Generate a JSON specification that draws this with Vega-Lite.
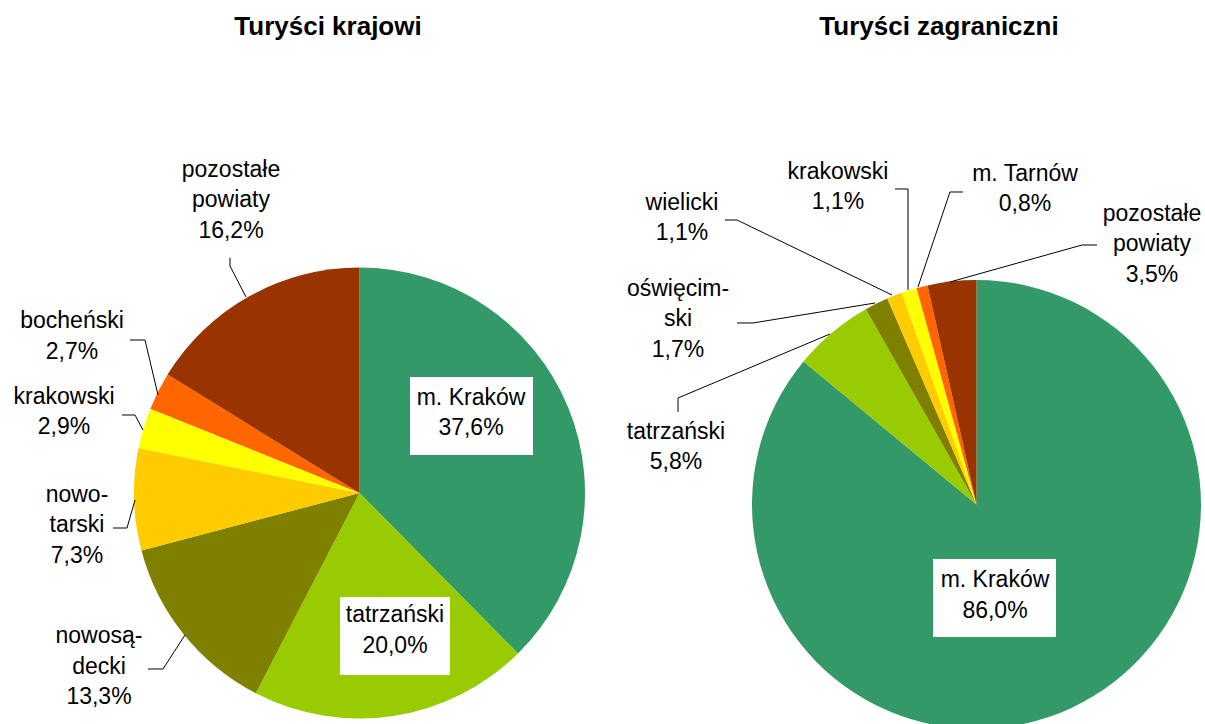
{
  "$schema": "https://vega.github.io/schema/vega-lite/v6.json",
  "width": 1205,
  "height": 724,
  "autosize": {"type": "none"},
  "padding": 0,
  "background": "white",
  "config": {
    "view": {"stroke": null},
    "axis": {"disable": true},
    "text": {"font": "Liberation Sans", "fontSize": 23, "lineHeight": 30.5, "color": "black", "baseline": "middle", "align": "center"},
    "rule": {"color": "black", "strokeWidth": 1}
  },
  "datasets": {
    "krajowi": [
      {"nr": 1, "powiat": "m. Kraków", "udzial": 37.6, "etykieta": ["m. Kraków", "37,6%"]},
      {"nr": 2, "powiat": "tatrzański", "udzial": 20.0, "etykieta": ["tatrzański", "20,0%"]},
      {"nr": 3, "powiat": "nowosądecki", "udzial": 13.3, "etykieta": ["nowosą-", "decki", "13,3%"]},
      {"nr": 4, "powiat": "nowotarski", "udzial": 7.3, "etykieta": ["nowo-", "tarski", "7,3%"]},
      {"nr": 5, "powiat": "krakowski", "udzial": 2.9, "etykieta": ["krakowski", "2,9%"]},
      {"nr": 6, "powiat": "bocheński", "udzial": 2.7, "etykieta": ["bocheński", "2,7%"]},
      {"nr": 7, "powiat": "pozostałe powiaty", "udzial": 16.2, "etykieta": ["pozostałe", "powiaty", "16,2%"]}
    ],
    "zagraniczni": [
      {"nr": 1, "powiat": "m. Kraków", "udzial": 86.0, "etykieta": ["m. Kraków", "86,0%"]},
      {"nr": 2, "powiat": "tatrzański", "udzial": 5.8, "etykieta": ["tatrzański", "5,8%"]},
      {"nr": 3, "powiat": "oświęcimski", "udzial": 1.7, "etykieta": ["oświęcim-", "ski", "1,7%"]},
      {"nr": 4, "powiat": "wielicki", "udzial": 1.1, "etykieta": ["wielicki", "1,1%"]},
      {"nr": 5, "powiat": "krakowski", "udzial": 1.1, "etykieta": ["krakowski", "1,1%"]},
      {"nr": 6, "powiat": "m. Tarnów", "udzial": 0.8, "etykieta": ["m. Tarnów", "0,8%"]},
      {"nr": 7, "powiat": "pozostałe powiaty", "udzial": 3.5, "etykieta": ["pozostałe", "powiaty", "3,5%"]}
    ],
    "tytuly": [
      {"grupa": "krajowi", "tytul": "Turyści krajowi"},
      {"grupa": "zagraniczni", "tytul": "Turyści zagraniczni"}
    ]
  },
  "layer": [
    {
      "data": {"name": "krajowi"},
      "mark": {"type": "arc", "outerRadius": 225.5},
      "encoding": {
        "x": {"datum": 0, "type": "quantitative", "scale": {"domain": [-1.5978, 3.7578], "nice": false, "zero": false}, "axis": null},
        "y": {"datum": 0, "type": "quantitative", "scale": {"domain": [-1.0267, 2.1911], "nice": false, "zero": false}, "axis": null},
        "theta": {"field": "udzial", "type": "quantitative", "stack": true, "scale": {"domain": [0, 100]}},
        "order": {"field": "nr", "type": "quantitative"},
        "color": {
          "field": "powiat", "type": "nominal", "legend": null,
          "scale": {
            "domain": ["m. Kraków", "tatrzański", "nowosądecki", "oświęcimski", "nowotarski", "wielicki", "krakowski", "bocheński", "m. Tarnów", "pozostałe powiaty"],
            "range": ["#339966", "#99CC00", "#808000", "#808000", "#FFCC00", "#FFCC00", "#FFFF00", "#FF6600", "#FF6600", "#993300"]
          }
        }
      }
    },
    {
      "data": {"name": "zagraniczni"},
      "mark": {"type": "arc", "outerRadius": 224.5},
      "encoding": {
        "x": {"datum": 2.7422, "type": "quantitative", "axis": null},
        "y": {"datum": -0.0511, "type": "quantitative", "axis": null},
        "theta": {"field": "udzial", "type": "quantitative", "stack": true},
        "order": {"field": "nr", "type": "quantitative"},
        "color": {"field": "powiat", "type": "nominal", "legend": null}
      }
    },
    {
      "data": {"name": "tytuly"},
      "transform": [{"filter": {"field": "grupa", "equal": "krajowi"}}],
      "mark": {"type": "text", "fontSize": 26, "fontWeight": "bold"},
      "encoding": {"x": {"datum": -0.14}, "y": {"datum": 2.0689}, "text": {"field": "tytul"}}
    },
    {
      "data": {"name": "tytuly"},
      "transform": [{"filter": {"field": "grupa", "equal": "zagraniczni"}}],
      "mark": {"type": "text", "fontSize": 26, "fontWeight": "bold"},
      "encoding": {"x": {"datum": 2.5756}, "y": {"datum": 2.0689}, "text": {"field": "tytul"}}
    },
    {
      "data": {"name": "krajowi"},
      "transform": [{"filter": {"field": "powiat", "equal": "m. Kraków"}}],
      "layer": [
        {"mark": {"type": "rect", "color": "white"}, "encoding": {"x": {"datum": 0.2244}, "x2": {"datum": 0.7711}, "y": {"datum": 0.5156}, "y2": {"datum": 0.1689}}},
        {"mark": "text", "encoding": {"x": {"datum": 0.4956}, "y": {"datum": 0.4222}, "text": {"field": "etykieta"}}}
      ]
    },
    {
      "data": {"name": "krajowi"},
      "transform": [{"filter": {"field": "powiat", "equal": "tatrzański"}}],
      "layer": [
        {"mark": {"type": "rect", "color": "white"}, "encoding": {"x": {"datum": -0.0867}, "x2": {"datum": 0.4022}, "y": {"datum": -0.4622}, "y2": {"datum": -0.8089}}},
        {"mark": "text", "encoding": {"x": {"datum": 0.1578}, "y": {"datum": -0.5444}, "text": {"field": "etykieta"}}}
      ]
    },
    {
      "data": {"name": "krajowi"},
      "transform": [{"filter": {"field": "powiat", "equal": "pozostałe powiaty"}}],
      "layer": [
        {"mark": "text", "encoding": {"x": {"datum": -0.5711}, "y": {"datum": 1.4356}, "text": {"field": "etykieta"}}},
        {"mark": "rule", "encoding": {"x": {"datum": -0.5756}, "y": {"datum": 1.0444}, "x2": {"datum": -0.5756}, "y2": {"datum": 1.0089}}},
        {"mark": "rule", "encoding": {"x": {"datum": -0.5756}, "y": {"datum": 1.0089}, "x2": {"datum": -0.5044}, "y2": {"datum": 0.8711}}}
      ]
    },
    {
      "data": {"name": "krajowi"},
      "transform": [{"filter": {"field": "powiat", "equal": "bocheński"}}],
      "layer": [
        {"mark": "text", "encoding": {"x": {"datum": -1.2778}, "y": {"datum": 0.7644}, "text": {"field": "etykieta"}}},
        {"mark": "rule", "encoding": {"x": {"datum": -1.02}, "y": {"datum": 0.68}, "x2": {"datum": -0.9533}, "y2": {"datum": 0.68}}},
        {"mark": "rule", "encoding": {"x": {"datum": -0.9533}, "y": {"datum": 0.68}, "x2": {"datum": -0.8956}, "y2": {"datum": 0.4356}}}
      ]
    },
    {
      "data": {"name": "krajowi"},
      "transform": [{"filter": {"field": "powiat", "equal": "krakowski"}}],
      "layer": [
        {"mark": "text", "encoding": {"x": {"datum": -1.3133}, "y": {"datum": 0.4267}, "text": {"field": "etykieta"}}},
        {"mark": "rule", "encoding": {"x": {"datum": -1.0556}, "y": {"datum": 0.3467}, "x2": {"datum": -0.9978}, "y2": {"datum": 0.3467}}},
        {"mark": "rule", "encoding": {"x": {"datum": -0.9978}, "y": {"datum": 0.3467}, "x2": {"datum": -0.9622}, "y2": {"datum": 0.28}}}
      ]
    },
    {
      "data": {"name": "krajowi"},
      "transform": [{"filter": {"field": "powiat", "equal": "nowotarski"}}],
      "layer": [
        {"mark": "text", "encoding": {"x": {"datum": -1.2556}, "y": {"datum": -0.0089}, "text": {"field": "etykieta"}}},
        {"mark": "rule", "encoding": {"x": {"datum": -1.0956}, "y": {"datum": -0.1556}, "x2": {"datum": -1.0333}, "y2": {"datum": -0.1556}}},
        {"mark": "rule", "encoding": {"x": {"datum": -1.0333}, "y": {"datum": -0.1556}, "x2": {"datum": -0.9978}, "y2": {"datum": -0.0311}}}
      ]
    },
    {
      "data": {"name": "krajowi"},
      "transform": [{"filter": {"field": "powiat", "equal": "nowosądecki"}}],
      "layer": [
        {"mark": "text", "encoding": {"x": {"datum": -1.1578}, "y": {"datum": -0.6356}, "text": {"field": "etykieta"}}},
        {"mark": "rule", "encoding": {"x": {"datum": -0.94}, "y": {"datum": -0.7822}, "x2": {"datum": -0.8733}, "y2": {"datum": -0.7822}}},
        {"mark": "rule", "encoding": {"x": {"datum": -0.8733}, "y": {"datum": -0.7822}, "x2": {"datum": -0.7756}, "y2": {"datum": -0.6311}}}
      ]
    },
    {
      "data": {"name": "zagraniczni"},
      "transform": [{"filter": {"field": "powiat", "equal": "m. Kraków"}}],
      "layer": [
        {"mark": {"type": "rect", "color": "white"}, "encoding": {"x": {"datum": 2.5489}, "x2": {"datum": 3.0956}, "y": {"datum": -0.2933}, "y2": {"datum": -0.64}}},
        {"mark": "text", "encoding": {"x": {"datum": 2.8244}, "y": {"datum": -0.3867}, "text": {"field": "etykieta"}}}
      ]
    },
    {
      "data": {"name": "zagraniczni"},
      "transform": [{"filter": {"field": "powiat", "equal": "tatrzański"}}],
      "layer": [
        {"mark": "text", "encoding": {"x": {"datum": 1.4067}, "y": {"datum": 0.2733}, "text": {"field": "etykieta"}}},
        {"mark": "rule", "encoding": {"x": {"datum": 1.4156}, "y": {"datum": 0.36}, "x2": {"datum": 1.4156}, "y2": {"datum": 0.4222}}},
        {"mark": "rule", "encoding": {"x": {"datum": 1.4156}, "y": {"datum": 0.4222}, "x2": {"datum": 2.0911}, "y2": {"datum": 0.7067}}}
      ]
    },
    {
      "data": {"name": "zagraniczni"},
      "transform": [{"filter": {"field": "powiat", "equal": "oświęcimski"}}],
      "layer": [
        {"mark": "text", "encoding": {"x": {"datum": 1.4156}, "y": {"datum": 0.9067}, "text": {"field": "etykieta"}}},
        {"mark": "rule", "encoding": {"x": {"datum": 1.6778}, "y": {"datum": 0.7556}, "x2": {"datum": 1.7489}, "y2": {"datum": 0.7556}}},
        {"mark": "rule", "encoding": {"x": {"datum": 1.7489}, "y": {"datum": 0.7556}, "x2": {"datum": 2.2911}, "y2": {"datum": 0.8444}}}
      ]
    },
    {
      "data": {"name": "zagraniczni"},
      "transform": [{"filter": {"field": "powiat", "equal": "wielicki"}}],
      "layer": [
        {"mark": "text", "encoding": {"x": {"datum": 1.4333}, "y": {"datum": 1.2889}, "text": {"field": "etykieta"}}},
        {"mark": "rule", "encoding": {"x": {"datum": 1.6244}, "y": {"datum": 1.2133}, "x2": {"datum": 1.6778}, "y2": {"datum": 1.2133}}},
        {"mark": "rule", "encoding": {"x": {"datum": 1.6778}, "y": {"datum": 1.2133}, "x2": {"datum": 2.3667}, "y2": {"datum": 0.88}}}
      ]
    },
    {
      "data": {"name": "zagraniczni"},
      "transform": [{"filter": {"field": "powiat", "equal": "krakowski"}}],
      "layer": [
        {"mark": "text", "encoding": {"x": {"datum": 2.1267}, "y": {"datum": 1.4267}, "text": {"field": "etykieta"}}},
        {"mark": "rule", "encoding": {"x": {"datum": 2.38}, "y": {"datum": 1.3511}, "x2": {"datum": 2.4378}, "y2": {"datum": 1.3511}}},
        {"mark": "rule", "encoding": {"x": {"datum": 2.4378}, "y": {"datum": 1.3511}, "x2": {"datum": 2.4378}, "y2": {"datum": 0.9022}}}
      ]
    },
    {
      "data": {"name": "zagraniczni"},
      "transform": [{"filter": {"field": "powiat", "equal": "m. Tarnów"}}],
      "layer": [
        {"mark": "text", "encoding": {"x": {"datum": 2.9578}, "y": {"datum": 1.4178}, "text": {"field": "etykieta"}}},
        {"mark": "rule", "encoding": {"x": {"datum": 2.6822}, "y": {"datum": 1.3378}, "x2": {"datum": 2.6244}, "y2": {"datum": 1.3378}}},
        {"mark": "rule", "encoding": {"x": {"datum": 2.6244}, "y": {"datum": 1.3378}, "x2": {"datum": 2.4822}, "y2": {"datum": 0.9156}}}
      ]
    },
    {
      "data": {"name": "zagraniczni"},
      "transform": [{"filter": {"field": "powiat", "equal": "pozostałe powiaty"}}],
      "layer": [
        {"mark": "text", "encoding": {"x": {"datum": 3.5222}, "y": {"datum": 1.24}, "text": {"field": "etykieta"}}},
        {"mark": "rule", "encoding": {"x": {"datum": 3.2778}, "y": {"datum": 1.1022}, "x2": {"datum": 3.2111}, "y2": {"datum": 1.1022}}},
        {"mark": "rule", "encoding": {"x": {"datum": 3.2111}, "y": {"datum": 1.1022}, "x2": {"datum": 2.6244}, "y2": {"datum": 0.9378}}}
      ]
    }
  ]
}
